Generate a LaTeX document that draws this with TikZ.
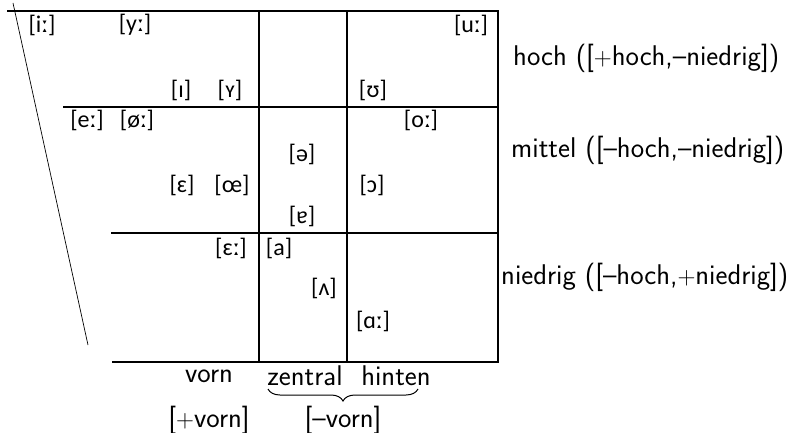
\documentclass[tikz,border=0pt]{standalone}
\usepackage{fontspec}
\usetikzlibrary{decorations.pathreplacing}
\newfontfamily\ipafont{Carlito}
\begin{document}
\begin{tikzpicture}[x=1pt,y=-1pt,
  grid/.style={line width=2pt},
  slant/.style={line width=0.7pt},
  ipa/.style={font=\ipafont\fontsize{24}{28}\selectfont, inner sep=0pt},
  lab/.style={font=\sffamily\fontsize{28.5}{32}\selectfont, inner sep=0pt}]
\useasboundingbox (0,0) rectangle (794,433);

% grid corners
\coordinate (t0) at (7,11);
\coordinate (t1) at (259,11);
\coordinate (t2) at (347,11);
\coordinate (t3) at (498,11);
\coordinate (m0) at (63,107);
\coordinate (m3) at (498,107);
\coordinate (n0) at (111,233);
\coordinate (n3) at (498,233);
\coordinate (b0) at (112,362);
\coordinate (b1) at (259,362);
\coordinate (b2) at (347,362);
\coordinate (b3) at (498,362);
\coordinate (s0) at (13,3);
\coordinate (s1) at (88,345);

% grid lines
\draw[grid] (t0) -- (t3) -- (b3) -- (b0);
\draw[grid] (m0) -- (m3);
\draw[grid] (n0) -- (n3);
\draw[grid] (t1) -- (b1);
\draw[grid] (t2) -- (b2);
\draw[slant] (s0) -- (s1);

% high vowels
\node[ipa] (i)  at (42,25)  {[iː]};
\node[ipa] (y)  at (135,25) {[yː]};
\node[ipa] (I)  at (181,90) {[ɪ]};
\node[ipa] (Y)  at (230,90) {[ʏ]};
\node[ipa] (u)  at (471,25) {[uː]};
\node[ipa] (U)  at (373,90) {[ʊ]};

% mid vowels
\node[ipa] (e)  at (87,120)  {[eː]};
\node[ipa] (oe) at (137,120) {[øː]};
\node[ipa] (E)  at (182,185) {[ɛ]};
\node[ipa] (OE) at (232,185) {[œ]};
\node[ipa] (o)  at (421,120) {[oː]};
\node[ipa] (schwa) at (302,154) {[ə]};
\node[ipa] (O)  at (372,185) {[ɔ]};
\node[ipa] (er) at (302,216) {[ɐ]};

% low vowels
\node[ipa] (EE) at (231,248) {[ɛː]};
\node[ipa] (a)  at (279,248) {[a]};
\node[ipa] (V)  at (324,288) {[ʌ]};
\node[ipa] (A)  at (373,321) {[ɑː]};

% height labels
\node[lab, anchor=west] (hoch)    at (513,58)  {hoch ([$+$hoch,–niedrig])};
\node[lab, anchor=west] (mittel)  at (511,150) {mittel ([–hoch,–niedrig])};
\node[lab, anchor=west] (niedrig) at (501,277) {niedrig ([–hoch,$+$niedrig])};

% backness labels
\node[lab] (vorn)    at (209,376) {vorn};
\node[lab] (zentral) at (305,376) {zentral};
\node[lab] (hinten)  at (396,376) {hinten};
\node[lab] (pvorn)   at (209,420) {[$+$vorn]};
\node[lab] (mvorn)   at (343,420) {[–vorn]};
\coordinate (brR) at (418,389);
\coordinate (brL) at (268,389);
\draw[line width=1pt, decorate, decoration={brace, amplitude=12pt}] (brR) -- (brL);
\end{tikzpicture}
\end{document}
